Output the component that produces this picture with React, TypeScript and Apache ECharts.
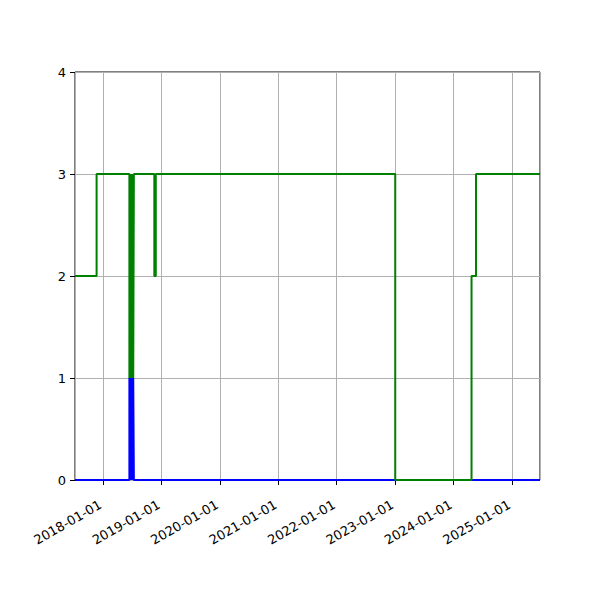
import React, { useEffect, useRef } from 'react';
import * as echarts from 'echarts';

// blue series: (date, value) points, value holds until the next date
const blueDates = [
    '2017-07-10', '2018-06-15', '2018-06-19', '2018-06-23', '2018-06-27',
    '2018-07-01', '2018-07-05', '2018-07-09', '2018-07-13', '2025-06-25',
];
const blueValues = [0, 1, 0, 1, 0, 1, 0, 1, 0, 0];

// green series
const greenDates = [
    '2017-07-10', '2017-11-22', '2018-06-15', '2018-06-19', '2018-06-23',
    '2018-06-27', '2018-07-01', '2018-07-05', '2018-07-09', '2018-07-13',
    '2018-11-18', '2018-11-27', '2023-01-02', '2024-04-23', '2024-05-21',
    '2025-06-25',
];
const greenValues = [2, 3, 1, 3, 1, 3, 1, 3, 1, 3, 2, 3, 0, 2, 3, 3];

const xMin = '2017-07-10';
const xMax = '2025-06-25';
const yTicks = [0, 1, 2, 3, 4];

const App = () => {
    const chartRef = useRef<HTMLDivElement>(null);

    useEffect(() => {
        document.body.style.margin = '0';
        if (!chartRef.current) return;
        const myChart = echarts.init(chartRef.current, null, { renderer: 'svg' });
        const font = 'DejaVu Sans';
        const option: any = {
            animation: false,
            textStyle: { fontFamily: font },
            grid: {
                left: 75,
                right: 60,
                top: 72,
                bottom: 120,
                show: true,
                borderColor: '#000',
                borderWidth: 1,
            },
            xAxis: {
                type: 'time',
                min: xMin,
                max: xMax,
                minInterval: 365 * 86400000,
                maxInterval: 366 * 86400000,
                axisLine: { show: false },
                axisTick: { show: true, length: 5, lineStyle: { color: '#000' } },
                axisLabel: {
                    rotate: 30,
                    margin: 22,
                    padding: [0, 3, 0, 0],
                    color: '#000',
                    fontSize: 13,
                    fontFamily: font,
                    showMinLabel: false,
                    showMaxLabel: false,
                    formatter: (v: number) => {
                        const d = new Date(v);
                        const mm = String(d.getMonth() + 1).padStart(2, '0');
                        const dd = String(d.getDate()).padStart(2, '0');
                        return `${d.getFullYear()}-${mm}-${dd}`;
                    },
                },
                splitLine: { show: true, lineStyle: { color: '#b0b0b0', width: 1 } },
            },
            yAxis: {
                type: 'value',
                min: yTicks[0],
                max: yTicks[yTicks.length - 1],
                interval: 1,
                axisLine: { show: false },
                axisTick: { show: true, length: 5, lineStyle: { color: '#000' } },
                axisLabel: { color: '#000', fontSize: 13, margin: 9, fontFamily: font },
                splitLine: { show: true, lineStyle: { color: '#b0b0b0', width: 1 } },
            },
            series: [
                {
                    type: 'line',
                    step: 'end',
                    symbol: 'none',
                    lineStyle: { color: '#0000ff', width: 2 },
                    data: blueDates.map((d, i) => [d, blueValues[i]]),
                },
                {
                    type: 'line',
                    step: 'end',
                    symbol: 'none',
                    lineStyle: { color: '#008000', width: 2 },
                    data: greenDates.map((d, i) => [d, greenValues[i]]),
                },
            ],
        };
        myChart.setOption(option);

        return () => {
            myChart.dispose();
        };
    }, []);

    return <div ref={chartRef} style={{ width: '600px', height: '600px' }}></div>;
};

export default App;
